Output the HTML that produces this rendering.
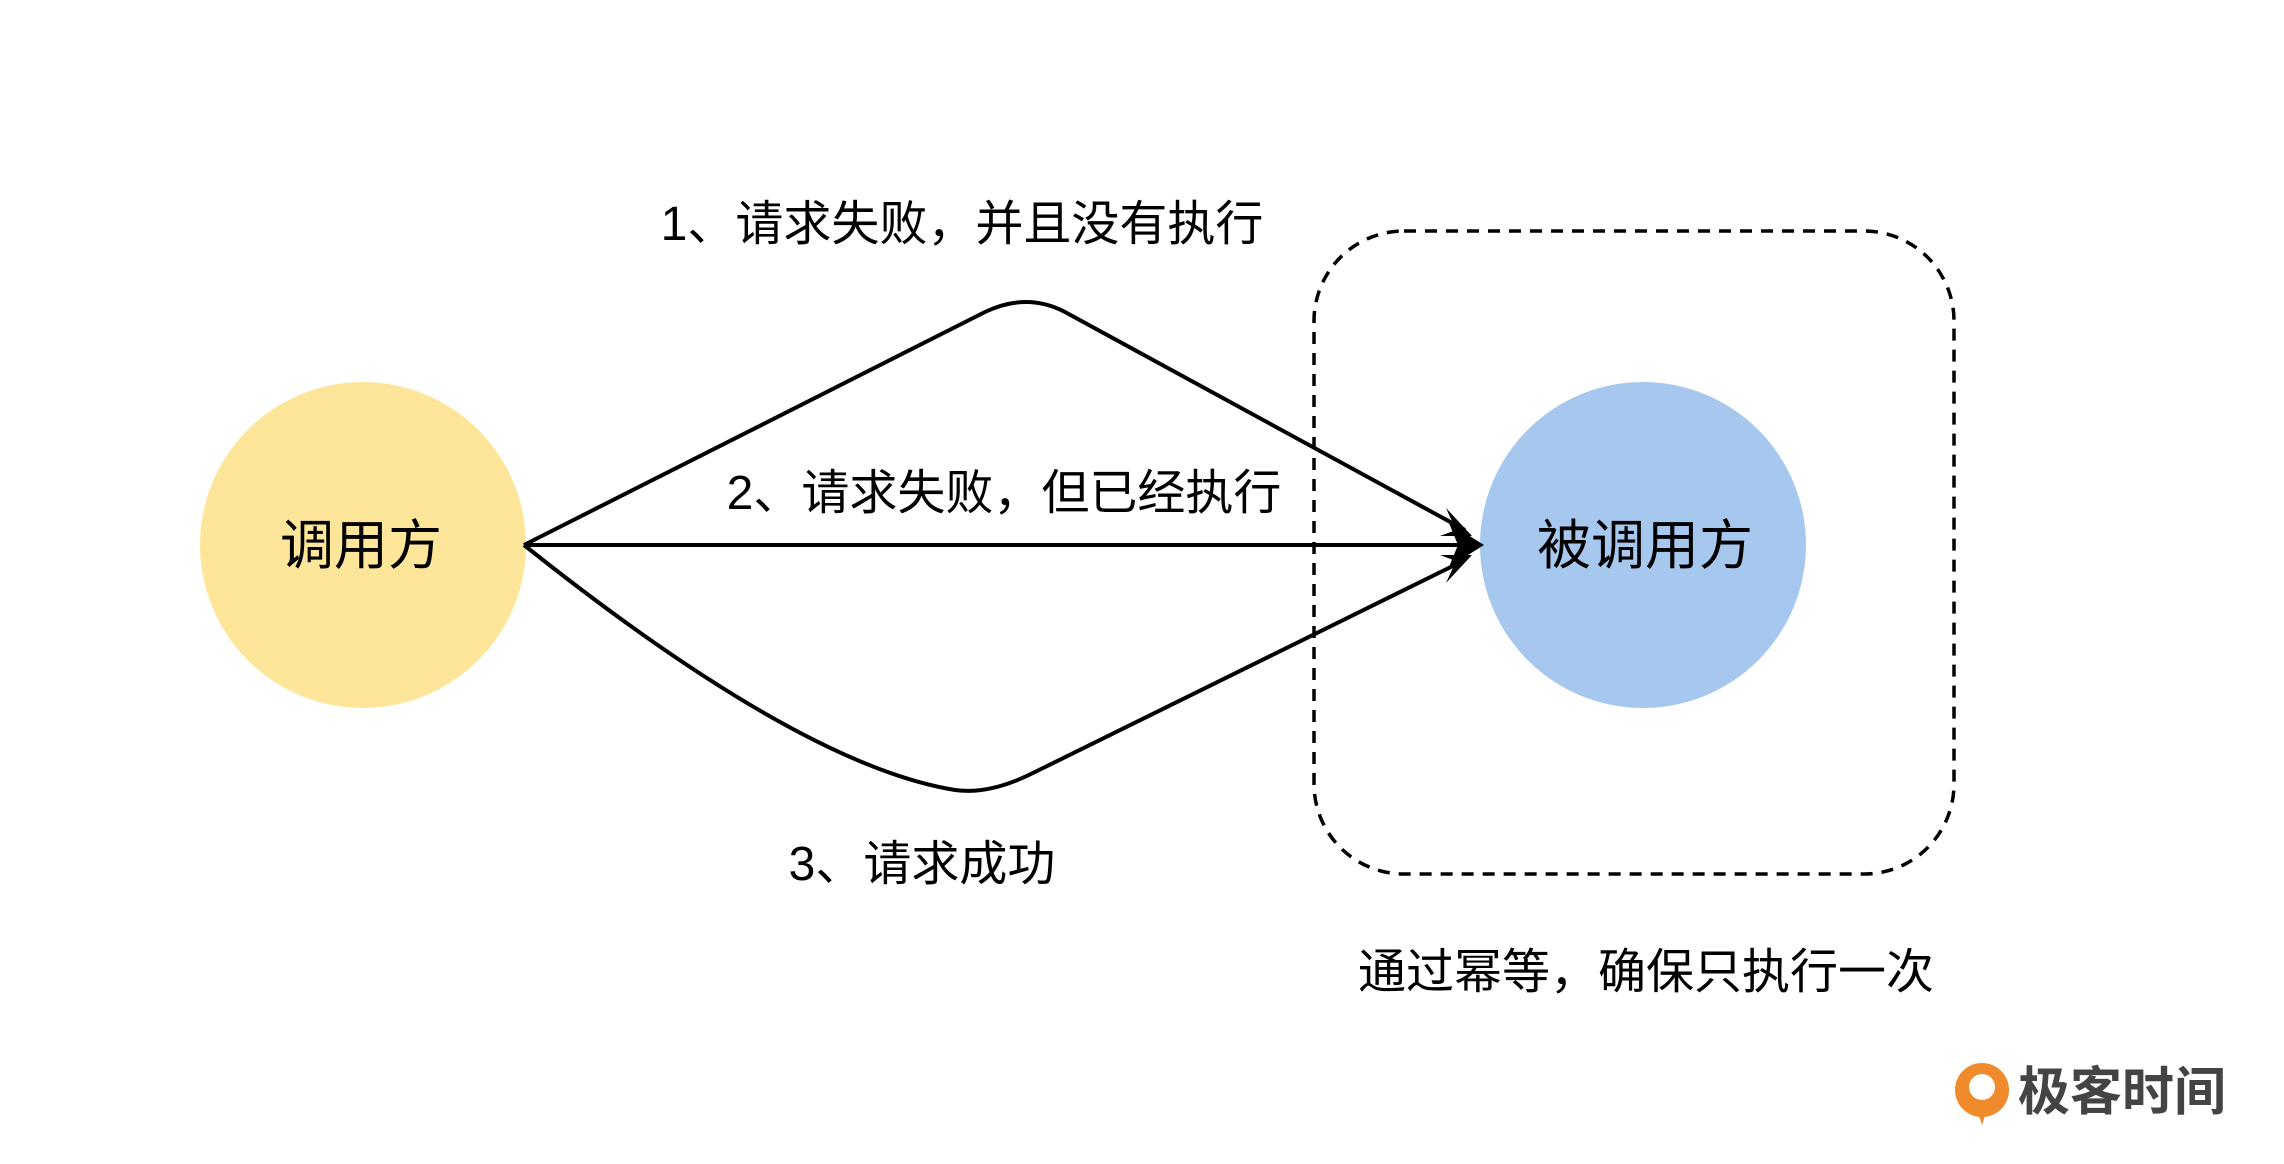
<!DOCTYPE html>
<html><head><meta charset="utf-8"><style>
html,body{margin:0;padding:0;background:#fff;}
svg text{font-family:"Liberation Sans","Noto Sans CJK SC",sans-serif;}
</style></head><body>
<svg width="2284" height="1159" viewBox="0 0 2284 1159" xmlns="http://www.w3.org/2000/svg">
<rect x="1314" y="231" width="640" height="643" rx="90" fill="none" stroke="#000" stroke-width="3.5" stroke-dasharray="12,9"/>
<circle cx="363" cy="545" r="163" fill="#fde69a"/>
<circle cx="1643" cy="545" r="163" fill="#a6c8ee"/>
<g fill="none" stroke="#000" stroke-width="4">
<path d="M524,545 L985,312 Q1027,292 1065,312 L1465,530"/>
<path d="M524,545 L1462,545"/>
<path d="M524,545 Q800,765 955,790 Q990,795 1035,772 L1465,560"/>
</g>
<g fill="#000">
<path d="M1484,545 L1449,523 L1458,545 L1449,567 Z"/>
<path d="M1472,536 L1446,508 L1456,530 L1440,536 Z"/>
<path d="M1472,555 L1440,555 L1456,561 L1446,583 Z"/>
</g>
<g font-size="48" fill="#000" text-anchor="middle">
<text x="962" y="240">1、请求失败，并且没有执行</text>
<text x="1004" y="509">2、请求失败，但已经执行</text>
<text x="922" y="880">3、请求成功</text>
<text x="1646" y="988">通过幂等，确保只执行一次</text>
</g>
<g font-size="54" fill="#000" text-anchor="middle">
<text x="361" y="564">调用方</text>
<text x="1645" y="564">被调用方</text>
</g>
<circle cx="1982" cy="1090" r="27" fill="#f08a2b"/>
<circle cx="1982" cy="1087" r="13" fill="#fff"/>
<path d="M1974,1100 L1982,1125 L1990,1100 Z" fill="#f08a2b"/>
<text x="2018" y="1110" font-size="52" fill="#444" font-weight="bold">极客时间</text>
</svg>
</body></html>
